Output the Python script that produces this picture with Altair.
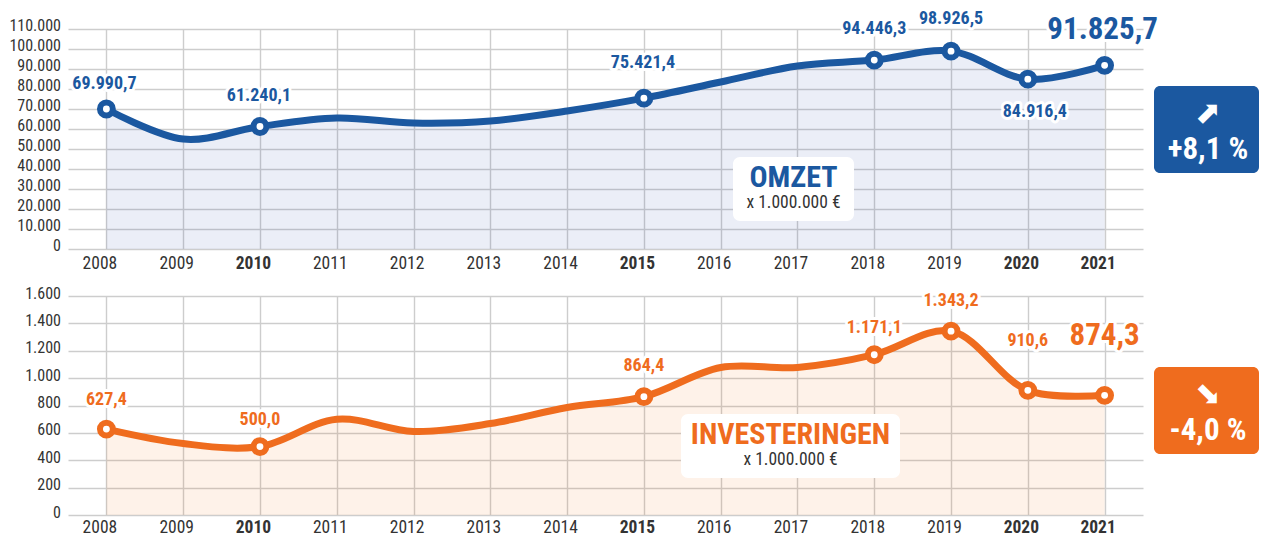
import altair as alt
import pandas as pd

years = list(range(2008, 2022))
omzet = [69990.7, 55000, 61240.1, 65500, 63000, 64000, 69000, 75421.4, 83500, 91500, 94446.3, 98926.5, 84916.4, 91825.7]
invest = [627.4, 522, 500.0, 700, 610, 668, 785, 864.4, 1078, 1078, 1171.1, 1343.2, 910.6, 874.3]

omzet_label_years = [2008, 2010, 2015, 2018, 2019, 2020, 2021]
omzet_labels = ["69.990,7", "61.240,1", "75.421,4", "94.446,3", "98.926,5", "84.916,4", "91.825,7"]
omzet_dy = [-25, -31, -35, -31, -32, 33, -35]
omzet_dx = [-2, -1, -1, 0, 0, 7, -2]

invest_label_years = [2008, 2010, 2015, 2018, 2019, 2020, 2021]
invest_labels = ["627,4", "500,0", "864,4", "1.171,1", "1.343,2", "910,6", "874,3"]
invest_dy = [-29, -27, -31, -27, -30, -49, -59]
invest_dx = [0, 0, 0, 0, 0, 0, 0]

omzet_ticks = list(range(0, 110001, 10000))
invest_ticks = list(range(0, 1601, 200))

FONT = "Roboto Condensed"
BLUE = "#1B58A0"
ORANGE = "#EF6C1E"
GRID = "#CDCDCD"
PLOT_W, PLOT_X = 1075, 68


def px(v):
    return alt.value(v - PLOT_X)


def box(x0, x1, y0, y1, color, top, radius):
    return alt.Chart({"values": [{"k": 1}]}).mark_rect(
        fill=color, cornerRadius=radius, clip=False
    ).encode(x=px(x0), x2=px(x1), y=alt.value(y0 - top), y2=alt.value(y1 - top))


def note(text, x, y, size, color, top, weight="bold", font=FONT):
    return alt.Chart({"values": [{"t": text}]}).mark_text(
        font=font, fontSize=size, fontWeight=weight, color=color, align="center", baseline="middle", clip=False
    ).encode(x=px(x), y=alt.value(y - top), text="t:N")


def panel(values, ticks, ymax, height, top, color, fill, fill_op, lab_years, labels, dys, dxs, name,
          box_xy, sub_y, badge_xy, arrow, pct, y_off, x_pad):
    df = pd.DataFrame({"year": years, "value": values})
    xs = alt.Scale(domain=[2007.5, 2021.5], nice=False, zero=False)
    ys = alt.Scale(domain=[0, ymax], nice=False)
    base = alt.Chart(df)
    xax = alt.Axis(
        values=years, format="d", title=None, domain=False, ticks=False,
        gridColor=GRID, gridWidth=1.4, labelFont=FONT, labelFontSize=17.5, labelPadding=x_pad,
        labelOffset=-7, labelColor="#333333", labelFlush=False, labelOverlap=False,
        labelFontWeight={"condition": {"test": "indexof([2010,2015,2020,2021],datum.value)>=0", "value": "bold"},
                         "value": "normal"},
    )
    yax = alt.Axis(
        values=ticks, title=None, domain=False, ticks=False, gridColor=GRID, gridWidth=1.4,
        labelFont=FONT, labelFontSize=16, labelPadding=7.5, labelColor="#333333", labelOffset=y_off,
        labelOverlap=False, labelFlush=False, labelExpr="replace(format(datum.value,','),',','.')",
    )
    enc = dict(x=alt.X("year:Q", scale=xs, axis=xax), y=alt.Y("value:Q", scale=ys, axis=yax))
    area = base.mark_area(interpolate="catmull-rom", color=fill, opacity=fill_op).encode(**enc)
    line = base.mark_line(interpolate="catmull-rom", color=color, strokeWidth=7).encode(**enc)
    pts = base.transform_filter(
        alt.FieldOneOfPredicate(field="year", oneOf=lab_years)
    ).mark_point(filled=True, fill="white", stroke=color, strokeWidth=6, size=165, opacity=1).encode(**enc)
    layers = [area, line, pts]
    for yr, lab, dy, dx in zip(lab_years, labels, dys, dxs):
        big = yr == 2021
        d = df[df.year == yr].assign(lab=lab)
        size = 31 if big else 18
        c = alt.Chart(d)
        layers.append(c.mark_text(font=FONT, fontSize=size, fontWeight="bold", dy=dy, dx=dx, stroke="white",
                                  strokeWidth=6, strokeJoin="round", color="white").encode(**enc, text="lab:N"))
        layers.append(c.mark_text(font=FONT, fontSize=size, fontWeight="bold", dy=dy, dx=dx, color=color)
                      .encode(**enc, text="lab:N"))
    bx0, bx1, by0, by1 = box_xy
    cx = (bx0 + bx1) / 2
    layers += [
        box(bx0, bx1, by0, by1, "white", top, 7),
        note(name, cx, by0 + 21, 30, color, top),
        note("x 1.000.000 €", cx, sub_y, 17.5, "#333333", top, "normal"),
    ]
    gx0, gx1, gy0, gy1 = badge_xy
    gc = 1208
    layers += [
        box(gx0, gx1, gy0, gy1, color, top, 6),
        note(arrow, gc, gy0 + 28, 31, "white", top, "normal", "DejaVu Sans"),
        note(pct, gc, gy0 + 64, 31, "white", top),
    ]
    return alt.layer(*layers).properties(width=PLOT_W, height=height)


top = panel(omzet, omzet_ticks, 110000, 220, 29, BLUE, "#2040A8", 0.09, omzet_label_years, omzet_labels,
            omzet_dy, omzet_dx, "OMZET", (733, 854, 157, 221), 203, (1154, 1259, 86, 173), "⬈", "+8,1 %", -4, 5)
bottom = panel(invest, invest_ticks, 1600, 219, 294, ORANGE, "#EF7010", 0.09, invest_label_years, invest_labels,
               invest_dy, invest_dx, "INVESTERINGEN", (681, 900, 412, 476), 458, (1154, 1259, 365, 452), "⬊", "-4,0 %", -3, 3)

chart = alt.vconcat(top, bottom, spacing=13).properties(
    padding={"left": 0, "top": 2, "right": 0, "bottom": 0}, background="white"
).configure_view(stroke=None)
chart.save("out.html", embed_options={"renderer": "svg", "actions": False})
